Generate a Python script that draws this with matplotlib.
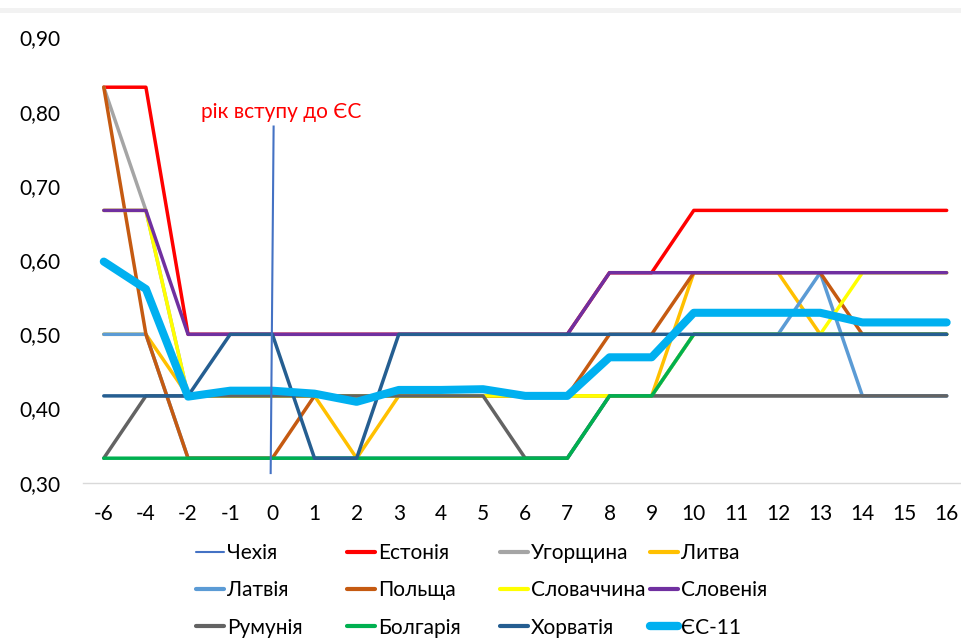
"""Accession chart: index by year relative to EU entry, 11 new member states."""
import matplotlib
matplotlib.use('Agg')
import matplotlib.pyplot as plt
from matplotlib.lines import Line2D
from matplotlib.patches import Rectangle

plt.rcParams['font.family'] = ['Lato', 'DejaVu Sans']

YEARS = ['-6', '-4', '-2', '-1', '0', '1', '2', '3', '4', '5', '6', '7',
         '8', '9', '10', '11', '12', '13', '14', '15', '16']

# values (steps of 1/12)
estonia = [.833, .833, .5, .5, .5, .5, .5, .5, .5, .5, .5, .5,
           .583, .583, .667, .667, .667, .667, .667, .667, .667]
hungary = [.833, .667, .417, .417, .417, .417, .417, .417, .417, .417, .417,
           .417, .417, .417, .417, .417, .417, .417, .417, .417, .417]
lithuania = [.5, .5, .417, .417, .417, .417, .333, .417, .417, .417, .417,
             .417, .417, .417, .583, .583, .583, .5, .5, .5, .5]
latvia = [.5, .5, .333, .333, .333, .333, .333, .333, .333, .333, .333,
          .333, .417, .417, .5, .5, .5, .583, .417, .417, .417]
poland = [.833, .5, .333, .333, .333, .417, .417, .417, .417, .417, .417,
          .417, .5, .5, .583, .583, .583, .583, .5, .5, .5]
slovakia = [.667, .667, .417, .417, .417, .417, .417, .417, .417, .417, .417,
            .417, .417, .417, .5, .5, .5, .5, .583, .583, .583]
slovenia = [.667, .667, .5, .5, .5, .5, .5, .5, .5, .5, .5, .5,
            .583, .583, .583, .583, .583, .583, .583, .583, .583]
romania = [.333, .417, .417, .417, .417, .417, .417, .417, .417, .417, .333,
           .333, .417, .417, .417, .417, .417, .417, .417, .417, .417]
bulgaria = [.333, .333, .333, .333, .333, .333, .333, .333, .333, .333, .333,
            .333, .417, .417, .5, .5, .5, .5, .5, .5, .5]
croatia = [.417, .417, .417, .5, .5, .333, .333, .5, .5, .5, .5, .5,
           .5, .5, .5, .5, .5, .5, .5, .5, .5]
eu11 = [.598, .561, .416, .424, .424, .420, .409, .425, .425, .426, .417,
        .417, .469, .469, .529, .529, .529, .529, .516, .516, .516]

# Czech series is the accession-year marker at x = 0
czech_x = [3.96, 4.03]
czech_y = [0.313, 0.78]

SERIES = [
    ('Естонія', estonia, '#FF0000'),
    ('Угорщина', hungary, '#A5A5A5'),
    ('Литва', lithuania, '#FFC000'),
    ('Латвія', latvia, '#5B9BD5'),
    ('Польща', poland, '#C55A11'),
    ('Словаччина', slovakia, '#FFFF00'),
    ('Словенія', slovenia, '#7030A0'),
    ('Румунія', romania, '#636363'),
    ('Болгарія', bulgaria, '#00B050'),
    ('Хорватія', croatia, '#255E91'),
]
EU_COLOR = '#00B0F0'
CZ_COLOR = '#4472C4'

fig = plt.figure(figsize=(9.61, 6.39), dpi=100)
fig.patches.append(Rectangle((0, 1 - 13 / 639), 1, 5 / 639,
                             transform=fig.transFigure, color='#F2F2F2',
                             lw=0))
ax = fig.add_axes([82.7 / 961, 156.3 / 639, 1 - 82.7 / 961, 445.2 / 639])

x = list(range(len(YEARS)))
handles = {}
for name, vals, col in SERIES:
    handles[name], = ax.plot(x, vals, color=col, lw=2.5,
                             solid_capstyle='round', solid_joinstyle='round')
handles['ЄС-11'], = ax.plot(x, eu11, color=EU_COLOR, lw=5.8,
                            solid_capstyle='round', solid_joinstyle='round')
handles['Чехія'], = ax.plot(czech_x, czech_y, color=CZ_COLOR, lw=1.5,
                            zorder=5)

ax.text(4.2, 0.80, 'рік вступу до ЄС', color='#FF0000', fontsize=15,
        ha='center', va='center')

ax.set_xlim(-0.5, 20.34)
ax.set_ylim(0.30, 0.90)
ax.set_xticks(x)
ax.set_xticklabels(YEARS)
yt = [0.3, 0.4, 0.5, 0.6, 0.7, 0.8, 0.9]
ax.set_yticks(yt)
ax.set_yticklabels([('%.2f' % v).replace('.', ',') for v in yt])
ax.tick_params(axis='x', length=0, pad=15.5, labelsize=15)
ax.tick_params(axis='y', length=0, pad=16, labelsize=15)
for s in ('top', 'right', 'left'):
    ax.spines[s].set_visible(False)
ax.spines['bottom'].set_color('#D9D9D9')
ax.spines['bottom'].set_linewidth(1.0)

# Excel-style legend: four equal columns, three rows
columns = [['Чехія', 'Латвія', 'Румунія'],
           ['Естонія', 'Польща', 'Болгарія'],
           ['Угорщина', 'Словаччина', 'Хорватія'],
           ['Литва', 'Словенія', 'ЄС-11']]
col_x = [196, 347, 500, 650]
for names, cx in zip(columns, col_x):
    hs = []
    for n in names:
        h = handles[n]
        lw = 1.5 if n == 'Чехія' else (6 if n == 'ЄС-11' else 3)
        hs.append(Line2D([], [], color=h.get_color(), lw=lw,
                         solid_capstyle='round'))
    fig.legend(hs, names, loc='center left',
               bbox_to_anchor=(cx / 961, 1 - 590.5 / 639),
               frameon=False, fontsize=15, borderpad=0, borderaxespad=0,
               handlelength=1.33, handletextpad=0.15, labelspacing=0.82)

fig.savefig('out.png', dpi=100)
